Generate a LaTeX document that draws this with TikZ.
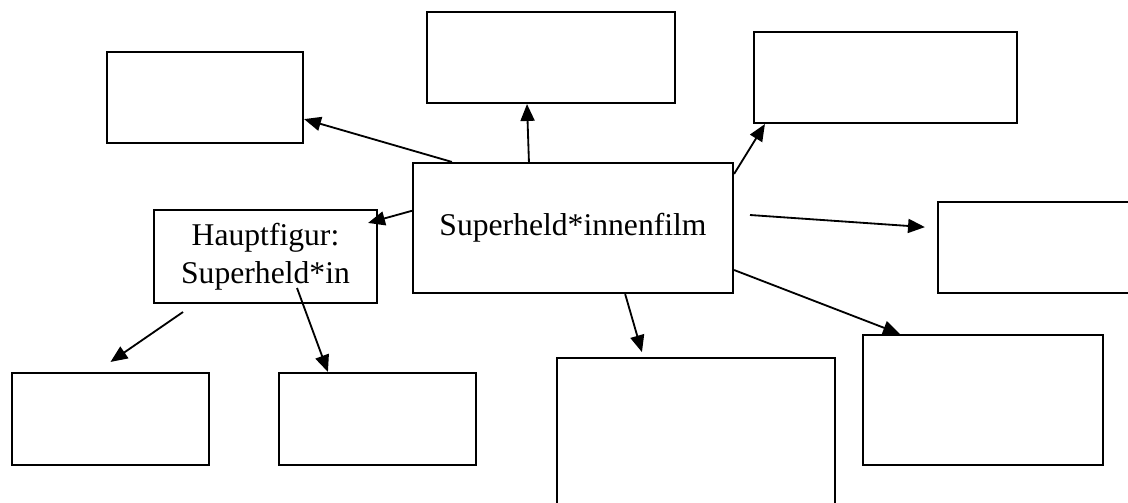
\documentclass[tikz,border=0pt]{standalone}
\usepackage{fontspec}
\setmainfont{Liberation Serif}
\usepackage{tikz}
\usetikzlibrary{arrows.meta,positioning,calc}
\tikzset{
  kasten/.style={draw,line width=1.5pt,inner sep=0pt,align=center,
                 font=\fontsize{22.5}{27}\selectfont},
  pfeil/.style={-{Triangle[length=12pt,width=10pt]},line width=1.3pt},
}

\begin{document}
\begin{tikzpicture}[x=0.025cm,y=-0.025cm]
    \useasboundingbox (0,0) rectangle (1128,502);
    \clip (0,0) rectangle (1128,502);
    % Kästen
    \node[kasten,minimum width=8cm,minimum height=3.25cm] (film) at (573,228) {Superheld*innenfilm};
    \node[kasten,minimum width=5.575cm,minimum height=2.325cm] (haupt) at (265.5,256.5) {Hauptfigur:\\Superheld*in};
    \node[kasten,minimum width=4.9cm,minimum height=2.275cm] (ol) at (205,97.5) {};
    \node[kasten,minimum width=6.2cm,minimum height=2.275cm] (om) at (551,57.5) {};
    \node[kasten,minimum width=6.575cm,minimum height=2.275cm] (or) at (885.5,77.5) {};
    \node[kasten,minimum width=5.3cm,minimum height=2.275cm] (re) at (1044,247.5) {};
    \node[kasten,minimum width=4.925cm,minimum height=2.3cm] (ul) at (110.5,419) {};
    \node[kasten,minimum width=4.925cm,minimum height=2.3cm] (uz) at (377.5,419) {};
    \node[kasten,minimum width=6.95cm,minimum height=4.2cm] (um) at (696,442) {};
    \node[kasten,minimum width=6cm,minimum height=3.25cm] (ur) at (983,400) {};
    % freie Enden
    \coordinate (s4) at (750,215);
    \coordinate (s8) at (183,312);
    \coordinate (s9) at (297,288);
    % Pfeile
    \draw[pfeil] ([xshift=1cm]film.north west) -- ([yshift=-0.54cm]ol.east);
    \draw[pfeil] ([xshift=2.925cm]film.north west) -- ([xshift=-0.6cm]om.south);
    \draw[pfeil] ([yshift=-0.3cm]film.north east) -- ([xshift=0.3cm]or.south west);
    \draw[pfeil] (s4) -- ([xshift=-0.3cm,yshift=0.51cm]re.west);
    \draw[pfeil] ([yshift=0.43cm]film.west) -- ([xshift=-0.25cm,yshift=-0.35cm]haupt.north east);
    \draw[pfeil] ([yshift=-1.05cm]film.east) -- ([xshift=0.95cm]ur.north west);
    \draw[pfeil] ([xshift=5.33cm]film.south west) -- ([xshift=2.15cm,yshift=0.12cm]um.north west);
    \draw[pfeil] (s8) -- ([yshift=0.25cm]ul.north);
    \draw[pfeil] (s9) -- ([xshift=1.25cm]uz.north west);
\end{tikzpicture}
\end{document}
